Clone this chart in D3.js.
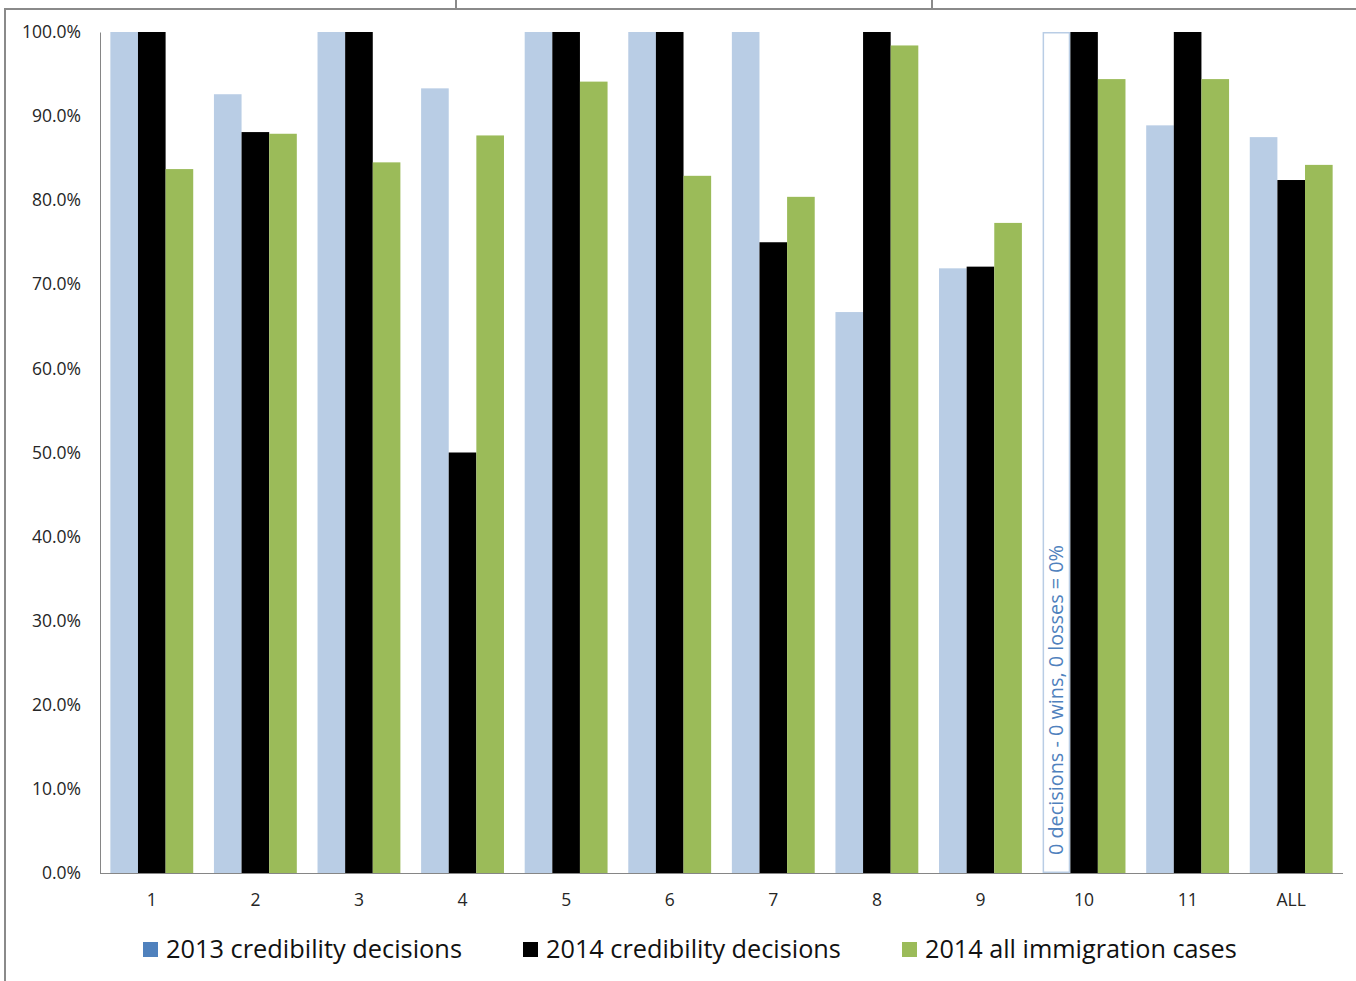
<!DOCTYPE html>
<html><head><meta charset="utf-8">
<script src="https://cdn.jsdelivr.net/npm/d3@7"></script>
<style>
html,body{margin:0;padding:0;background:#fff;}
svg{display:block;}
text{font-family:"Open Sans",Lato,sans-serif;}
</style></head>
<body>
<svg id="chart" width="1356" height="981"></svg>
<script>
const categories = ["1","2","3","4","5","6","7","8","9","10","11","ALL"];
const seriesNames = ["2013 credibility decisions","2014 credibility decisions","2014 all immigration cases"];
const values2013 = [100, 92.6, 100, 93.3, 100, 100, 100, 66.7, 71.9, 0, 88.9, 87.5];
const values2014 = [100, 88.1, 100, 50.0, 100, 100, 75.0, 100, 72.1, 100, 100, 82.4];
const valuesAll2014 = [83.7, 87.9, 84.5, 87.7, 94.1, 82.9, 80.4, 98.4, 77.3, 94.4, 94.4, 84.2];
const yTicks = [0,10,20,30,40,50,60,70,80,90,100];
const noDataCategory = "10";
const noDataNote = "0 decisions - 0 wins, 0 losses = 0%";

const barColors = ["#B9CDE5", "#000000", "#9BBB59"];
const legendColors = ["#4F81BD", "#000000", "#9BBB59"];

const svg = d3.select("#chart");
const m = {left:100, right:1343, top:32, bottom:873};

function fitWidth(sel, target){
  const w = sel.node().getComputedTextLength();
  const fs = parseFloat(sel.attr("font-size"));
  sel.attr("font-size", fs*target/w);
}

// frame
const frame = svg.append("g").attr("stroke","#8a8a8a").attr("stroke-width",2);
frame.append("line").attr("x1",5).attr("x2",1356).attr("y1",9).attr("y2",9);
frame.append("line").attr("x1",5).attr("x2",5).attr("y1",8).attr("y2",981);
frame.append("line").attr("x1",456).attr("x2",456).attr("y1",0).attr("y2",9);
frame.append("line").attr("x1",932).attr("x2",932).attr("y1",0).attr("y2",9);

const x = d3.scaleBand().domain(categories).range([m.left, m.right]).paddingInner(0.2).paddingOuter(0.1);
const x1 = d3.scaleBand().domain([0,1,2]).range([0, x.bandwidth()]);
const y = d3.scaleLinear().domain([0,100]).range([m.bottom, m.top]);

const series = [values2013, values2014, valuesAll2014];
const rows = categories.map((c,i)=>({c, v:series.map(s=>s[i])}));

const g = svg.append("g");
const groups = g.selectAll("g.grp").data(rows).join("g")
  .attr("transform", d=>`translate(${x(d.c)},0)`);
groups.selectAll("rect").data(d=>d.v.map((v,k)=>({v,k,c:d.c})).filter(e=>!(e.c===noDataCategory && e.k===0)))
  .join("rect")
  .attr("x", e=>x1(e.k))
  .attr("width", x1.bandwidth())
  .attr("y", e=>y(e.v))
  .attr("height", e=>y(0)-y(e.v))
  .attr("fill", e=>barColors[e.k]);

// no-data annotation box
const nx = x(noDataCategory) + x1(0);
g.append("rect")
  .attr("x", nx+0.75).attr("width", x1.bandwidth()-1.5)
  .attr("y", y(100)+0.75).attr("height", y(0)-y(100)-1.5)
  .attr("fill","#fff").attr("stroke","#B9CDE5").attr("stroke-width",1.5);
const note = g.append("text")
  .attr("transform", `translate(${nx + x1.bandwidth()/2 + 7},${y(0)-18}) rotate(-90)`)
  .attr("fill","#4F81BD").attr("font-size",19)
  .text(noDataNote);
fitWidth(note, 310);

// axes
const yAxis = d3.axisLeft(y).tickValues(yTicks).tickSize(0).tickPadding(19)
  .tickFormat(d=>d3.format(".1f")(d)+"%");
const ya = svg.append("g").attr("transform",`translate(${m.left},0)`).call(yAxis);
ya.select(".domain").attr("stroke","#868686");
ya.selectAll("text").attr("font-size",17.5).attr("fill","#262626").attr("font-family","'Open Sans', sans-serif");

const xAxis = d3.axisBottom(x).tickSize(0).tickPadding(21);
const xa = svg.append("g").attr("transform",`translate(0,${m.bottom})`).call(xAxis);
xa.select(".domain").attr("stroke","#868686").attr("d",`M${m.left},0.5H${m.right}`);
xa.selectAll("text").attr("font-size",17.5).attr("fill","#262626").attr("font-family","'Open Sans', sans-serif");

// legend
const legendX = [143, 523, 902];
const legendW = [296, 295, 312];
const lg = svg.append("g");
seriesNames.forEach((n,i)=>{
  lg.append("rect").attr("x",legendX[i]).attr("y",942).attr("width",15).attr("height",15).attr("fill",legendColors[i]);
  const t = lg.append("text").attr("x",legendX[i]+23).attr("y",958).attr("font-size",23).attr("fill","#111").text(n);
  fitWidth(t, legendW[i]);
});
</script>
</body></html>
